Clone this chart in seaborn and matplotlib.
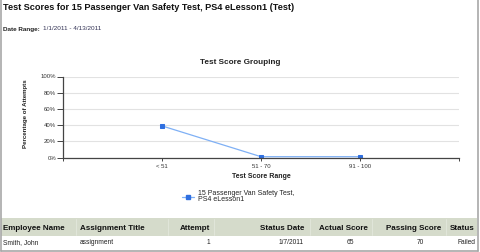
import matplotlib
matplotlib.use("Agg")
import matplotlib.pyplot as plt
import seaborn as sns
import pandas as pd
from matplotlib.patches import Rectangle
from matplotlib.lines import Line2D

# ---- data ----
categories = ["< 51", "51 - 70", "91 - 100"]
percent_attempts = [39, 1, 1]
series_name = "15 Passenger Van Safety Test,\nPS4 eLesson1"
y_ticks = [0, 20, 40, 60, 80, 100]
y_tick_labels = ["0%", "20%", "40%", "60%", "80%", "100%"]

report_title = "Test Scores for 15 Passenger Van Safety Test, PS4 eLesson1 (Test)"
date_range = "1/1/2011 - 4/13/2011"
table_headers = ["Employee Name", "Assignment Title", "Attempt", "Status Date",
                 "Actual Score", "Passing Score", "Status"]
table_row = ["Smith, John", "assignment", "1", "1/7/2011", "65", "70", "Failed"]

W, H = 480, 252
sns.set_theme(style="white")
plt.rcParams["font.family"] = ["Liberation Sans", "DejaVu Sans"]

fig = plt.figure(figsize=(W / 100, H / 100), dpi=100)
fig.patch.set_facecolor("white")


def fx(x):
    return x / W


def fy(y):
    return 1 - y / H


# ---- header texts ----
fig.text(fx(3), fy(7), report_title, fontsize=6.6, fontweight="bold",
         color="#111111", ha="left", va="center")
fig.text(fx(3), fy(29), "Date Range:", fontsize=4.6, fontweight="bold",
         color="#222222", ha="left", va="center")
fig.text(fx(43), fy(29), date_range, fontsize=4.6, color="#333355",
         ha="left", va="center")

# ---- chart ----
ax_l, ax_r, ax_t, ax_b = 63, 459, 76.5, 157.5
ax = fig.add_axes([fx(ax_l), fy(ax_b), (ax_r - ax_l) / W, (ax_b - ax_t) / H])
df = pd.DataFrame({"Range": categories, "Percent": percent_attempts})
sns.lineplot(data=df, x="Range", y="Percent", ax=ax, color="#7fb0f5",
             linewidth=0.9, marker="s", markersize=2.6,
             markerfacecolor="#2f6fe0", markeredgecolor="#2f6fe0", sort=False)
ax.set_xlim(-1, 3)
ax.set_ylim(0, 100)
ax.set_yticks(y_ticks)
ax.set_yticklabels(y_tick_labels)
ax.set_xticks([-1, 0, 1, 2, 3])
ax.set_xticklabels(["", categories[0], categories[1], categories[2], ""])
ax.yaxis.grid(True, color="#e2e2e2", linewidth=0.8)
ax.set_axisbelow(True)
for s in ["top", "right"]:
    ax.spines[s].set_visible(False)
for s in ["left", "bottom"]:
    ax.spines[s].set_color("#444444")
    ax.spines[s].set_linewidth(0.9)
ax.tick_params(axis="y", length=4, width=0.7, color="#444444", pad=1,
               labelsize=4.3, labelcolor="#333333", left=True)
ax.tick_params(axis="x", length=2.5, width=0.7, color="#444444", pad=2.5,
               labelsize=4.3, labelcolor="#333333", bottom=True)
ax.set_xlabel("")
ax.set_ylabel("")

fig.text(fx(240), fy(62), "Test Score Grouping", fontsize=5.9, fontweight="bold",
         color="#222222", ha="center", va="center")
fig.text(fx(261), fy(177), "Test Score Range", fontsize=5.0, fontweight="bold",
         color="#222222", ha="center", va="center")
fig.text(fx(26), fy(114), "Percentage of Attempts", fontsize=4.4,
         fontweight="bold", color="#222222", ha="center", va="center",
         rotation=90)

# ---- legend ----
fig.add_artist(Line2D([fx(182), fx(194)], [fy(197), fy(197)], color="#7fb0f5",
                      linewidth=0.9))
fig.add_artist(Line2D([fx(188)], [fy(197)], marker="s", markersize=2.6,
                      color="#2f6fe0", linestyle="none"))
fig.text(fx(198), fy(196.5), series_name, fontsize=5.0, color="#222222",
         ha="left", va="center", linespacing=0.95)

# ---- table ----
fig.add_artist(Rectangle((fx(1), fy(235.5)), fx(476), (235.5 - 217.5) / H,
                         facecolor="#d5dbcb", edgecolor="none"))
for xsep in [76, 168, 214, 310, 372, 446]:
    fig.add_artist(Line2D([fx(xsep), fx(xsep)], [fy(218.5), fy(235)],
                          color="#e3e7dc", linewidth=0.6))

hdr_x = [3, 80, 210, 304, 368, 441, 475]
col_x = [3, 80, 210, 304, 354, 424, 475]
col_ha = ["left", "left", "right", "right", "right", "right", "right"]
for x, ha, t in zip(hdr_x, col_ha, table_headers):
    fig.text(fx(x), fy(228), t, fontsize=5.8, fontweight="bold",
             color="#111111", ha=ha, va="center")
for x, ha, t in zip(col_x, col_ha, table_row):
    fig.text(fx(x), fy(242.5), t, fontsize=4.8, color="#222222",
             ha=ha, va="center")

# ---- outer frame ----
frame_c = "#a8a8a8"
fig.add_artist(Line2D([fx(0.7), fx(0.7)], [fy(0), fy(250.5)], color=frame_c,
                      linewidth=1.2))
fig.add_artist(Line2D([fx(477.5), fx(477.5)], [fy(0), fy(250.5)], color=frame_c,
                      linewidth=1.2))
fig.add_artist(Line2D([fx(0.7), fx(477.5)], [fy(250.5), fy(250.5)],
                      color=frame_c, linewidth=1.2))

fig.savefig("out.png", dpi=100, facecolor="white")
